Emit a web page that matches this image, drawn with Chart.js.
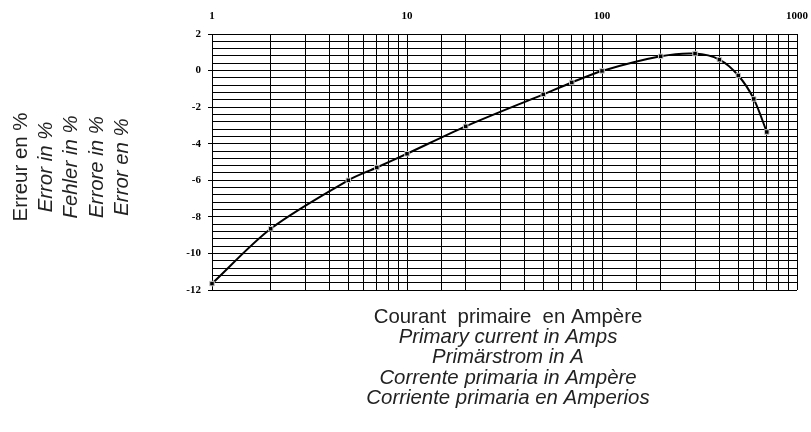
<!DOCTYPE html>
<html>
<head>
<meta charset="utf-8">
<script src="https://cdn.jsdelivr.net/npm/chart.js@4/dist/chart.umd.min.js"></script>
<style>
  html, body { margin: 0; padding: 0; background: #fff; }
  #wrap { width: 811px; height: 432px; }
</style>
</head>
<body>
<div id="wrap"><canvas id="c" width="811" height="432"></canvas></div>
<script>
// current in A (log axis) and ratio error in %
const currents = [1, 2, 5, 7, 10, 20, 50, 70, 100, 200, 300, 400, 500, 600, 700];
const errors = [-11.65, -8.65, -6.0, -5.3, -4.55, -3.05, -1.3, -0.65, -0.02, 0.78, 0.93, 0.6, -0.27, -1.55, -3.36];

const xLabels = [1, 10, 100, 1000];
const yLabels = [2, 0, -2, -4, -6, -8, -10, -12];

const yTitle = ['Erreur en %', 'Error in %', 'Fehler in %', 'Errore in %', 'Error en %'];
const xTitle = [
  'Courant  primaire  en Ampère',
  'Primary current in Amps',
  'Primärstrom in A',
  'Corrente primaria in Ampère',
  'Corriente primaria en Amperios'
];

const tickFont = {family: '"Liberation Serif", "Times New Roman", serif', size: 11, weight: 'bold'};

function isYLabel(v) {
  return yLabels.some(l => Math.abs(l - v) < 1e-6);
}

function isXLabel(v) {
  return xLabels.some(l => Math.abs(l - v) < 1e-6);
}

// both titles mix upright and italic lines, so they are drawn by hand
const titlesPlugin = {
  id: 'titles',
  afterDraw(chart) {
    const ctx = chart.ctx;
    ctx.save();
    ctx.fillStyle = '#222';
    ctx.textAlign = 'center';
    ctx.textBaseline = 'middle';

    const cx = 508;
    xTitle.forEach((t, i) => {
      ctx.font = (i === 0 ? '' : 'italic ') + '20.4px "Liberation Sans", Arial, sans-serif';
      ctx.fillText(t, cx, 317 + i * 20.3);
    });

    const cols = [21.7, 46.7, 71.7, 96.9, 122.8];
    yTitle.forEach((t, i) => {
      ctx.save();
      ctx.translate(cols[i], 167);
      ctx.rotate(-Math.PI / 2);
      ctx.font = (i === 0 ? '' : 'italic ') + '20.4px "Liberation Sans", Arial, sans-serif';
      ctx.fillText(t, 0, 0);
      ctx.restore();
    });
    ctx.restore();
  }
};

const ctx = document.getElementById('c').getContext('2d');
const chart = new Chart(ctx, {
  type: 'line',
  data: {
    datasets: [{
      data: currents.map((x, i) => ({x: x, y: errors[i]})),
      borderColor: '#000',
      borderWidth: 2,
      tension: 0.3,
      pointStyle: 'rect',
      pointRadius: 3.2,
      pointBackgroundColor: '#000',
      pointBorderColor: '#ccc',
      pointBorderWidth: 1,
      clip: false
    }]
  },
  options: {
    responsive: false,
    animation: false,
    layout: {padding: {top: 0, left: 152, right: 14, bottom: 142}},
    plugins: {
      legend: {display: false},
      tooltip: {enabled: false}
    },
    scales: {
      x: {
        type: 'logarithmic',
        position: 'top',
        min: 1,
        max: 1000,
        afterFit(scale) {
          scale.height = 34;
          scale.paddingLeft = 0;
          scale.paddingRight = 0;
        },
        border: {color: '#000', width: 1},
        grid: {color: '#000', lineWidth: 1, drawTicks: false},
        ticks: {
          autoSkip: false,
          maxRotation: 0,
          padding: 11,
          color: '#000',
          font: tickFont,
          callback: v => isXLabel(v) ? String(v) : ''
        }
      },
      y: {
        type: 'linear',
        min: -12,
        max: 2,
        afterFit(scale) {
          scale.width = 60;
          scale.paddingTop = 0;
          scale.paddingBottom = 0;
        },
        border: {color: '#000', width: 1},
        grid: {
          color: '#000',
          lineWidth: 1,
          tickLength: 4,
          tickColor: c => (c.tick && isYLabel(c.tick.value)) ? '#000' : 'rgba(0,0,0,0)'
        },
        ticks: {
          stepSize: 0.4,
          autoSkip: false,
          padding: 7,
          color: '#000',
          font: tickFont,
          callback: v => isYLabel(v) ? String(Math.round(v)) : ''
        }
      }
    }
  },
  plugins: [titlesPlugin]
});
</script>
</body>
</html>
